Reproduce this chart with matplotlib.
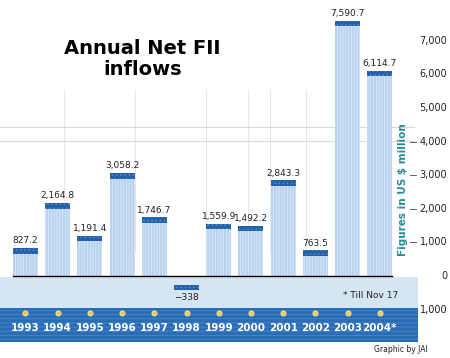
import numpy as np
import matplotlib.pyplot as plt

years = ['1993', '1994', '1995', '1996', '1997', '1998', '1999', '2000',
         '2001', '2002', '2003', '2004*']
inflows = [827.2, 2164.8, 1191.4, 3058.2, 1746.7, -338, 1559.9, 1492.2,
           2843.3, 763.5, 7590.7, 6114.7]
labels = ['827.2', '2,164.8', '1,191.4', '3,058.2', '1,746.7', '\u2212338', '1,559.9',
          '1,492.2', '2,843.3', '763.5', '7,590.7', '6,114.7']
ticks = [7000, 6000, 5000, 4000, 3000, 2000, 1000, 0, -1000]
tick_labels = ['7,000', '6,000', '5,000', '4,000', '3,000', '2,000', '1,000', '0', '1,000']

light = '#b7d2ee'
dark = '#2461a9'
band = '#2b6db5'

plt.rcParams['hatch.linewidth'] = 0.5

fig = plt.figure(figsize=(4.5, 3.58), dpi=100)
ax = fig.add_axes([0, 0, 1, 1])
ax.set_xlim(-0.79, 13.18)
ax.set_ylim(-2440, 8214)
ax.axis('off')

x = np.arange(len(years))
vals = np.array(inflows)
w = 0.78

# faint background lines
for xv in [1.2, 3.4, 5.6, 6.9, 7.6, 8.7, 9.9, 11.2]:
    ax.axvline(xv, ymin=0.3, ymax=0.75, color='#e6e6ea', lw=0.7, zorder=0)
for yv in [4430, 4020]:
    ax.axhline(yv, xmin=0, xmax=0.92, color='#d9dadf', lw=0.8, zorder=0)

# lower bands
ax.axhspan(-952, -30, xmin=0, xmax=0.929, color='#d6e5f4', zorder=1, lw=0)
ax.axhspan(-1964, -952, xmin=0, xmax=0.929, color=band, zorder=1, lw=0)
ax.axhspan(-1964, -952, xmin=0, xmax=0.929, facecolor='none', edgecolor='#4f8ac8',
           hatch='----', lw=0, zorder=1)

# bars
pos = np.where(vals > 0, vals, 0)
ax.bar(x, pos, width=w, color=light, zorder=2)
ax.bar(x, pos, width=w, facecolor='none', edgecolor='#e4eefa', hatch='||||||', lw=0, zorder=2)
cap = 160
cap_bottom = np.where(vals > 0, vals - cap, vals - 80)
ax.bar(x, cap, bottom=cap_bottom, width=w, color=dark, zorder=3)
ax.bar(x, cap, bottom=cap_bottom, width=w, facecolor='none', edgecolor='#5b91cf',
       hatch='....', lw=0, zorder=3)

ax.plot([x[0] - w / 2, x[-1] + w / 2], [0, 0], color='black', lw=1, zorder=4)

for xi, v, lab in zip(x, vals, labels):
    if v > 0:
        ax.annotate(lab, (xi, v), xytext=(0, 2), textcoords='offset points',
                    ha='center', va='bottom', fontsize=6.5, color='#222222', zorder=5)
    else:
        ax.annotate(lab, (xi, v - 80), xytext=(0, -2), textcoords='offset points',
                    ha='center', va='top', fontsize=6.5, color='#222222', zorder=5)

# year band
ax.scatter(x, np.full(len(x), -1100), s=14, color='#f0c84a', edgecolor='#fff3c0',
           lw=0.5, zorder=5)
for xi, yr in zip(x, years):
    ax.text(xi, -1560, yr, ha='center', va='center', fontsize=7.5, color='white',
            fontweight='bold', zorder=5)

# right axis
for t, tl in zip(ticks, tick_labels):
    ax.text(13.09, t, tl, ha='right', va='center', fontsize=7, color='#222222', zorder=5)
    if 1000 <= t <= 4000:
        ax.plot([11.94, 12.13], [t, t], color='#444444', lw=0.6, zorder=5)

ax.text(11.72, 2560, 'Figures in US $ million', rotation=90, ha='center', va='center',
        fontsize=7.5, color='#2a8c9c', fontweight='bold', zorder=5)

ax.text(10.73, -570, '* Till Nov 17', ha='center', va='center', fontsize=6.5,
        color='#222222', zorder=5)
ax.text(11.65, -2180, 'Graphic by JAI', ha='center', va='center', fontsize=5.5,
        color='#222222', zorder=5)

fig.text(0.316, 0.835, 'Annual Net FII\ninflows', ha='center', va='center',
         fontsize=14, fontweight='bold', color='black', linespacing=1.1)

fig.savefig('out.png', dpi=100)
